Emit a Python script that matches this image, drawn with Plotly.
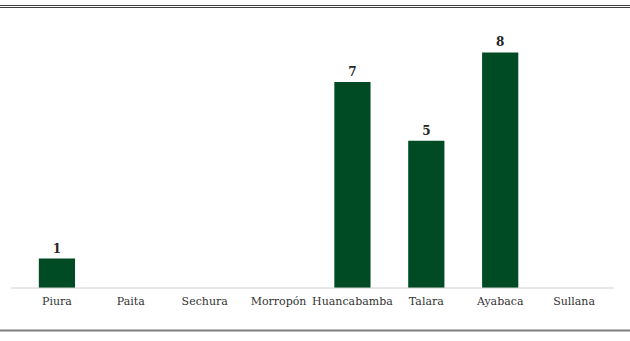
import plotly.graph_objects as go

categories = ["Piura", "Paita", "Sechura", "Morropón", "Huancabamba", "Talara", "Ayabaca", "Sullana"]
values = [1, None, None, None, 7, 5, 8, None]
labels = ["1", "", "", "", "7", "5", "8", ""]

W, H = 630, 341
ml, mr, mt, mb = 20, 19, 23, 53
pw, ph = W - ml - mr, H - mt - mb

def px_y(y):
    return (H - mb - y) / ph

def px_x(x):
    return (x - ml) / pw

fig = go.Figure(go.Bar(
    x=categories, y=values, text=labels, textposition="outside",
    marker=dict(color="#004b23", line=dict(width=0)),
    textfont=dict(family="DejaVu Serif", size=12, color="#262626"),
    texttemplate="<b>%{text}</b>", cliponaxis=False, hoverinfo="skip",
))

fig.update_layout(
    width=W, height=H,
    margin=dict(l=ml, r=mr, t=mt, b=mb),
    paper_bgcolor="white", plot_bgcolor="white",
    bargap=0.51, showlegend=False,
    xaxis=dict(showline=False, showgrid=False, ticks="", ticklen=0,
               ticklabelstandoff=5,
               tickfont=dict(family="DejaVu Serif", size=11, color="#333333")),
    yaxis=dict(range=[0, 9], visible=False),
    shapes=[
        dict(type="line", xref="paper", yref="paper", x0=px_x(11), x1=px_x(614),
             y0=0, y1=0, line=dict(color="#d0d0d0", width=1)),
        dict(type="line", xref="paper", yref="paper", x0=px_x(0), x1=px_x(630),
             y0=px_y(5.5), y1=px_y(5.5), line=dict(color="#404040", width=1)),
        dict(type="line", xref="paper", yref="paper", x0=px_x(0), x1=px_x(630),
             y0=px_y(7.5), y1=px_y(7.5), line=dict(color="#404040", width=1)),
        dict(type="line", xref="paper", yref="paper", x0=px_x(0), x1=px_x(630),
             y0=px_y(330.5), y1=px_y(330.5), line=dict(color="#7f7f7f", width=2)),
    ],
)

fig.write_html("out.html", config={"displayModeBar": False},
               post_script="document.body.style.margin='0';document.body.style.overflow='hidden';")
